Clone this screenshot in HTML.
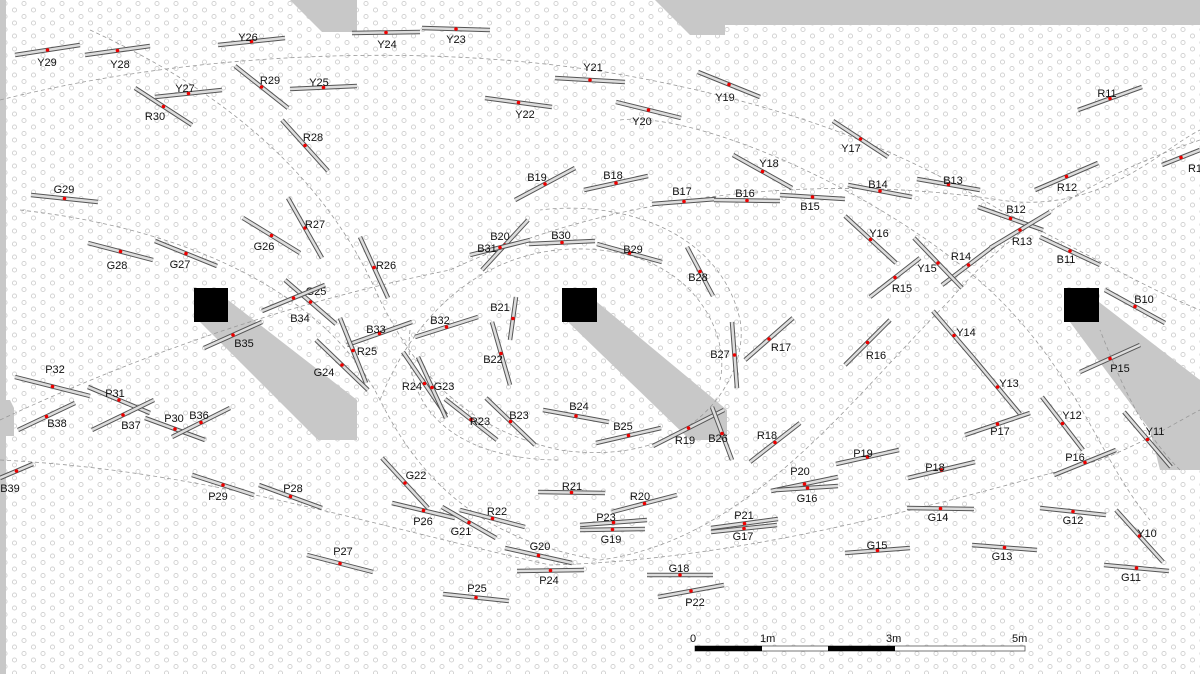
<!DOCTYPE html>
<html><head><meta charset="utf-8"><style>
html,body{margin:0;padding:0;background:#fff}
svg{display:block}
text{font-family:"Liberation Sans",sans-serif;font-size:11px;fill:#111}
</style></head><body>
<svg id="plan" width="1200" height="674" viewBox="0 0 1200 674" xmlns="http://www.w3.org/2000/svg">
<defs>
<pattern id="dots" width="19" height="13" patternUnits="userSpaceOnUse">
<circle cx="5" cy="3.5" r="2.1" fill="none" stroke="#cfcfcf" stroke-width="0.9"/>
<circle cx="14.5" cy="10" r="2.1" fill="none" stroke="#cfcfcf" stroke-width="0.9"/>
</pattern>
</defs>
<rect x="0" y="0" width="1200" height="674" fill="url(#dots)"/>
<g fill="#c8c8c8">
<polygon points="290,0 357,0 357,32 322,32"/>
<polygon points="655,0 1200,0 1200,25 725,25 725,35 690,35"/>
<rect x="0" y="0" width="6" height="674"/>
<polygon points="0,400 10,400 14,408 14,436 0,436"/>
</g>
<g fill="#c8c8c8">
<polygon points="200,322 228,300 357,400 357,440 318,440"/>
<polygon points="568,322 597,302 727,410 727,440 690,440"/>
<polygon points="1070,322 1099,302 1200,380 1200,470 1160,470 1150,430"/>
</g>
<g fill="none" stroke="#999" stroke-width="0.8" stroke-dasharray="4,3">
<path d="M0,100 C200,50 450,40 650,80 C800,110 900,150 1000,210 C1080,250 1150,290 1200,310"/>
<path d="M0,420 C150,350 300,300 450,270 C600,200 800,170 1000,200 C1100,215 1160,150 1200,130"/>
<path d="M0,460 C200,470 350,520 550,565 C750,560 950,500 1100,460 C1150,440 1180,420 1200,410"/>
<path d="M20,210 C200,230 330,300 380,400 C420,480 480,540 600,560 C750,540 850,400 950,300 C1000,240 1080,180 1200,140"/>
<path d="M90,30 C200,80 320,160 380,300 C420,380 470,430 560,450 C700,470 750,370 740,320 C720,230 620,200 540,210"/>
<path d="M380,400 C420,300 500,240 600,250 C700,260 730,340 720,380"/>
<path d="M620,120 C700,110 900,200 1000,300 C1080,380 1100,460 1150,520"/>
<path d="M1180,470 C1140,430 1120,380 1100,330"/>
<path d="M410,330 C400,420 470,460 560,460"/>
</g>
<g id="sticks"></g>
<g fill="#000">
<rect x="194" y="288" width="34" height="34"/>
<rect x="562" y="288" width="35" height="34"/>
<rect x="1064" y="288" width="35" height="34"/>
</g>
<g>
<rect x="695" y="646" width="330" height="5" fill="#fff" stroke="#555" stroke-width="0.8"/>
<rect x="695" y="646" width="67" height="5" fill="#000"/>
<rect x="828" y="646" width="67" height="5" fill="#000"/>
<text x="690" y="642" font-size="13">0</text>
<text x="760" y="642" font-size="13">1m</text>
<text x="886" y="642" font-size="13">3m</text>
<text x="1012" y="642" font-size="13">5m</text>
</g>
</svg>
<script>
const labels=["Y29","Y28","Y26","Y24","Y23","Y27","R30","R29","Y25","Y21","Y19","Y22","Y20","R28","R11","Y17","Y18","G29","B19","B18","B17","B16","B15","B14","B13","R12","R1","R27","G26","G28","G27","R26","B20","B31","B30","B29","B28","B12","Y16","R14","R13","B11","Y15","R15","G25","B34","B35","B21","B22","B33","B32","R25","G24","B27","R17","R16","Y14","Y13","B10","P15","R24","G23","R23","B23","B24","B25","R19","B26","R18","Y12","Y11","P17","P16","P32","P31","B37","P30","B36","B38","B39","G22","P29","P28","R21","R20","P26","R22","G21","P23","G19","P21","G17","P20","P19","G16","P18","G14","G12","Y10","G11","G13","G15","G20","P24","P27","P25","G18","P22"];
const x1s=[15,85,218,352,422,155,135,235,290,555,698,485,616,282,1078,833,733,31,515,584,652,714,780,848,917,1035,1162,288,243,88,155,360,482,470,529,597,687,978,845,942,990,1040,914,870,285,262,204,516,492,347,415,340,316,732,745,845,933,975,1105,1080,403,418,445,486,543,596,653,712,750,1042,1124,965,1054,15,88,92,145,172,18,0,382,192,259,538,612,392,460,442,580,580,711,711,771,836,777,908,907,1040,1116,1104,972,845,505,517,307,443,647,658];
const y1s=[55,55,45,33,28,97,88,66,89,78,72,98,102,120,110,121,155,195,200,190,204,200,195,185,179,190,165,198,218,243,241,237,270,255,244,244,247,207,216,285,248,237,238,297,280,311,348,297,322,345,337,318,340,322,360,365,311,360,290,372,352,357,399,398,410,443,446,407,462,397,412,435,475,377,387,430,418,437,430,478,458,475,485,492,512,503,510,507,525,530,528,532,491,464,490,478,508,508,510,565,545,553,548,571,555,594,575,597];
const x2s=[80,150,285,420,490,222,192,288,357,625,760,552,681,328,1142,888,792,98,575,648,716,780,845,912,980,1098,1200,322,300,153,217,388,528,530,595,662,713,1043,896,995,1050,1100,962,920,336,325,262,510,510,412,478,366,368,737,793,890,975,1020,1165,1140,446,446,497,535,609,661,724,732,800,1083,1171,1030,1116,90,150,154,205,230,75,33,428,254,322,605,677,455,525,496,647,645,778,777,838,899,838,975,974,1106,1163,1169,1037,910,572,584,373,509,713,724];
const y2s=[45,46,38,32,30,90,125,108,86,82,97,107,118,171,87,157,188,202,168,176,199,201,199,197,190,163,150,258,253,260,266,298,220,240,241,262,296,230,263,245,212,265,288,258,324,285,322,340,385,322,317,383,390,388,318,320,360,414,323,345,415,418,440,445,422,428,410,460,423,450,467,413,450,396,413,400,440,408,403,464,508,495,508,493,495,518,527,538,520,529,519,525,477,450,486,462,509,515,562,571,550,548,563,570,572,601,575,585];
const lxs=[47,120,248,387,456,185,155,270,319,593,725,525,642,313,1107,851,769,64,537,613,682,745,810,878,953,1067,1195,315,264,117,180,386,500,487,561,633,698,1016,879,961,1022,1066,927,902,316,300,244,500,493,376,440,367,324,720,781,876,966,1009,1144,1120,412,444,480,519,579,623,685,718,767,1072,1155,1000,1075,55,115,131,174,199,57,10,416,218,293,572,640,423,497,461,606,611,744,743,800,863,807,935,938,1073,1147,1131,1002,877,540,549,343,477,679,695];
const lys=[62,64,37,44,39,88,116,80,82,67,97,114,121,137,93,148,163,189,177,175,191,193,206,184,180,187,168,224,246,265,264,265,236,248,235,249,277,209,233,256,241,259,268,288,291,318,343,307,359,329,320,351,372,354,347,355,332,383,299,368,386,386,421,415,406,426,440,438,435,415,431,431,457,369,393,425,418,415,423,488,475,496,488,486,496,521,511,531,517,539,515,536,471,453,498,467,517,520,533,577,556,545,546,580,551,588,568,602];
const NS='http://www.w3.org/2000/svg';
const g=document.getElementById('sticks');
for(let i=0;i<labels.length;i++){
  const a=document.createElementNS(NS,'line');
  a.setAttribute('x1',x1s[i]);a.setAttribute('y1',y1s[i]);a.setAttribute('x2',x2s[i]);a.setAttribute('y2',y2s[i]);
  a.setAttribute('stroke','#555');a.setAttribute('stroke-width','4.5');
  
  
  g.appendChild(a);
  const b=document.createElementNS(NS,'line');
  b.setAttribute('x1',x1s[i]);b.setAttribute('y1',y1s[i]);b.setAttribute('x2',x2s[i]);b.setAttribute('y2',y2s[i]);
  b.setAttribute('stroke','#ddd');b.setAttribute('stroke-width','2.5');
  
  
  g.appendChild(b);
  const d=document.createElementNS(NS,'circle');
  d.setAttribute('cx',(x1s[i]+x2s[i])/2);d.setAttribute('cy',(y1s[i]+y2s[i])/2);d.setAttribute('r','1.8');d.setAttribute('fill','#e00');
  
  
  g.appendChild(d);
  const t=document.createElementNS(NS,'text');
  t.setAttribute('x',lxs[i]);t.setAttribute('y',lys[i]+4);t.setAttribute('text-anchor','middle');
  t.textContent=labels[i];
  
  
  g.appendChild(t);
}
</script>
</body></html>
